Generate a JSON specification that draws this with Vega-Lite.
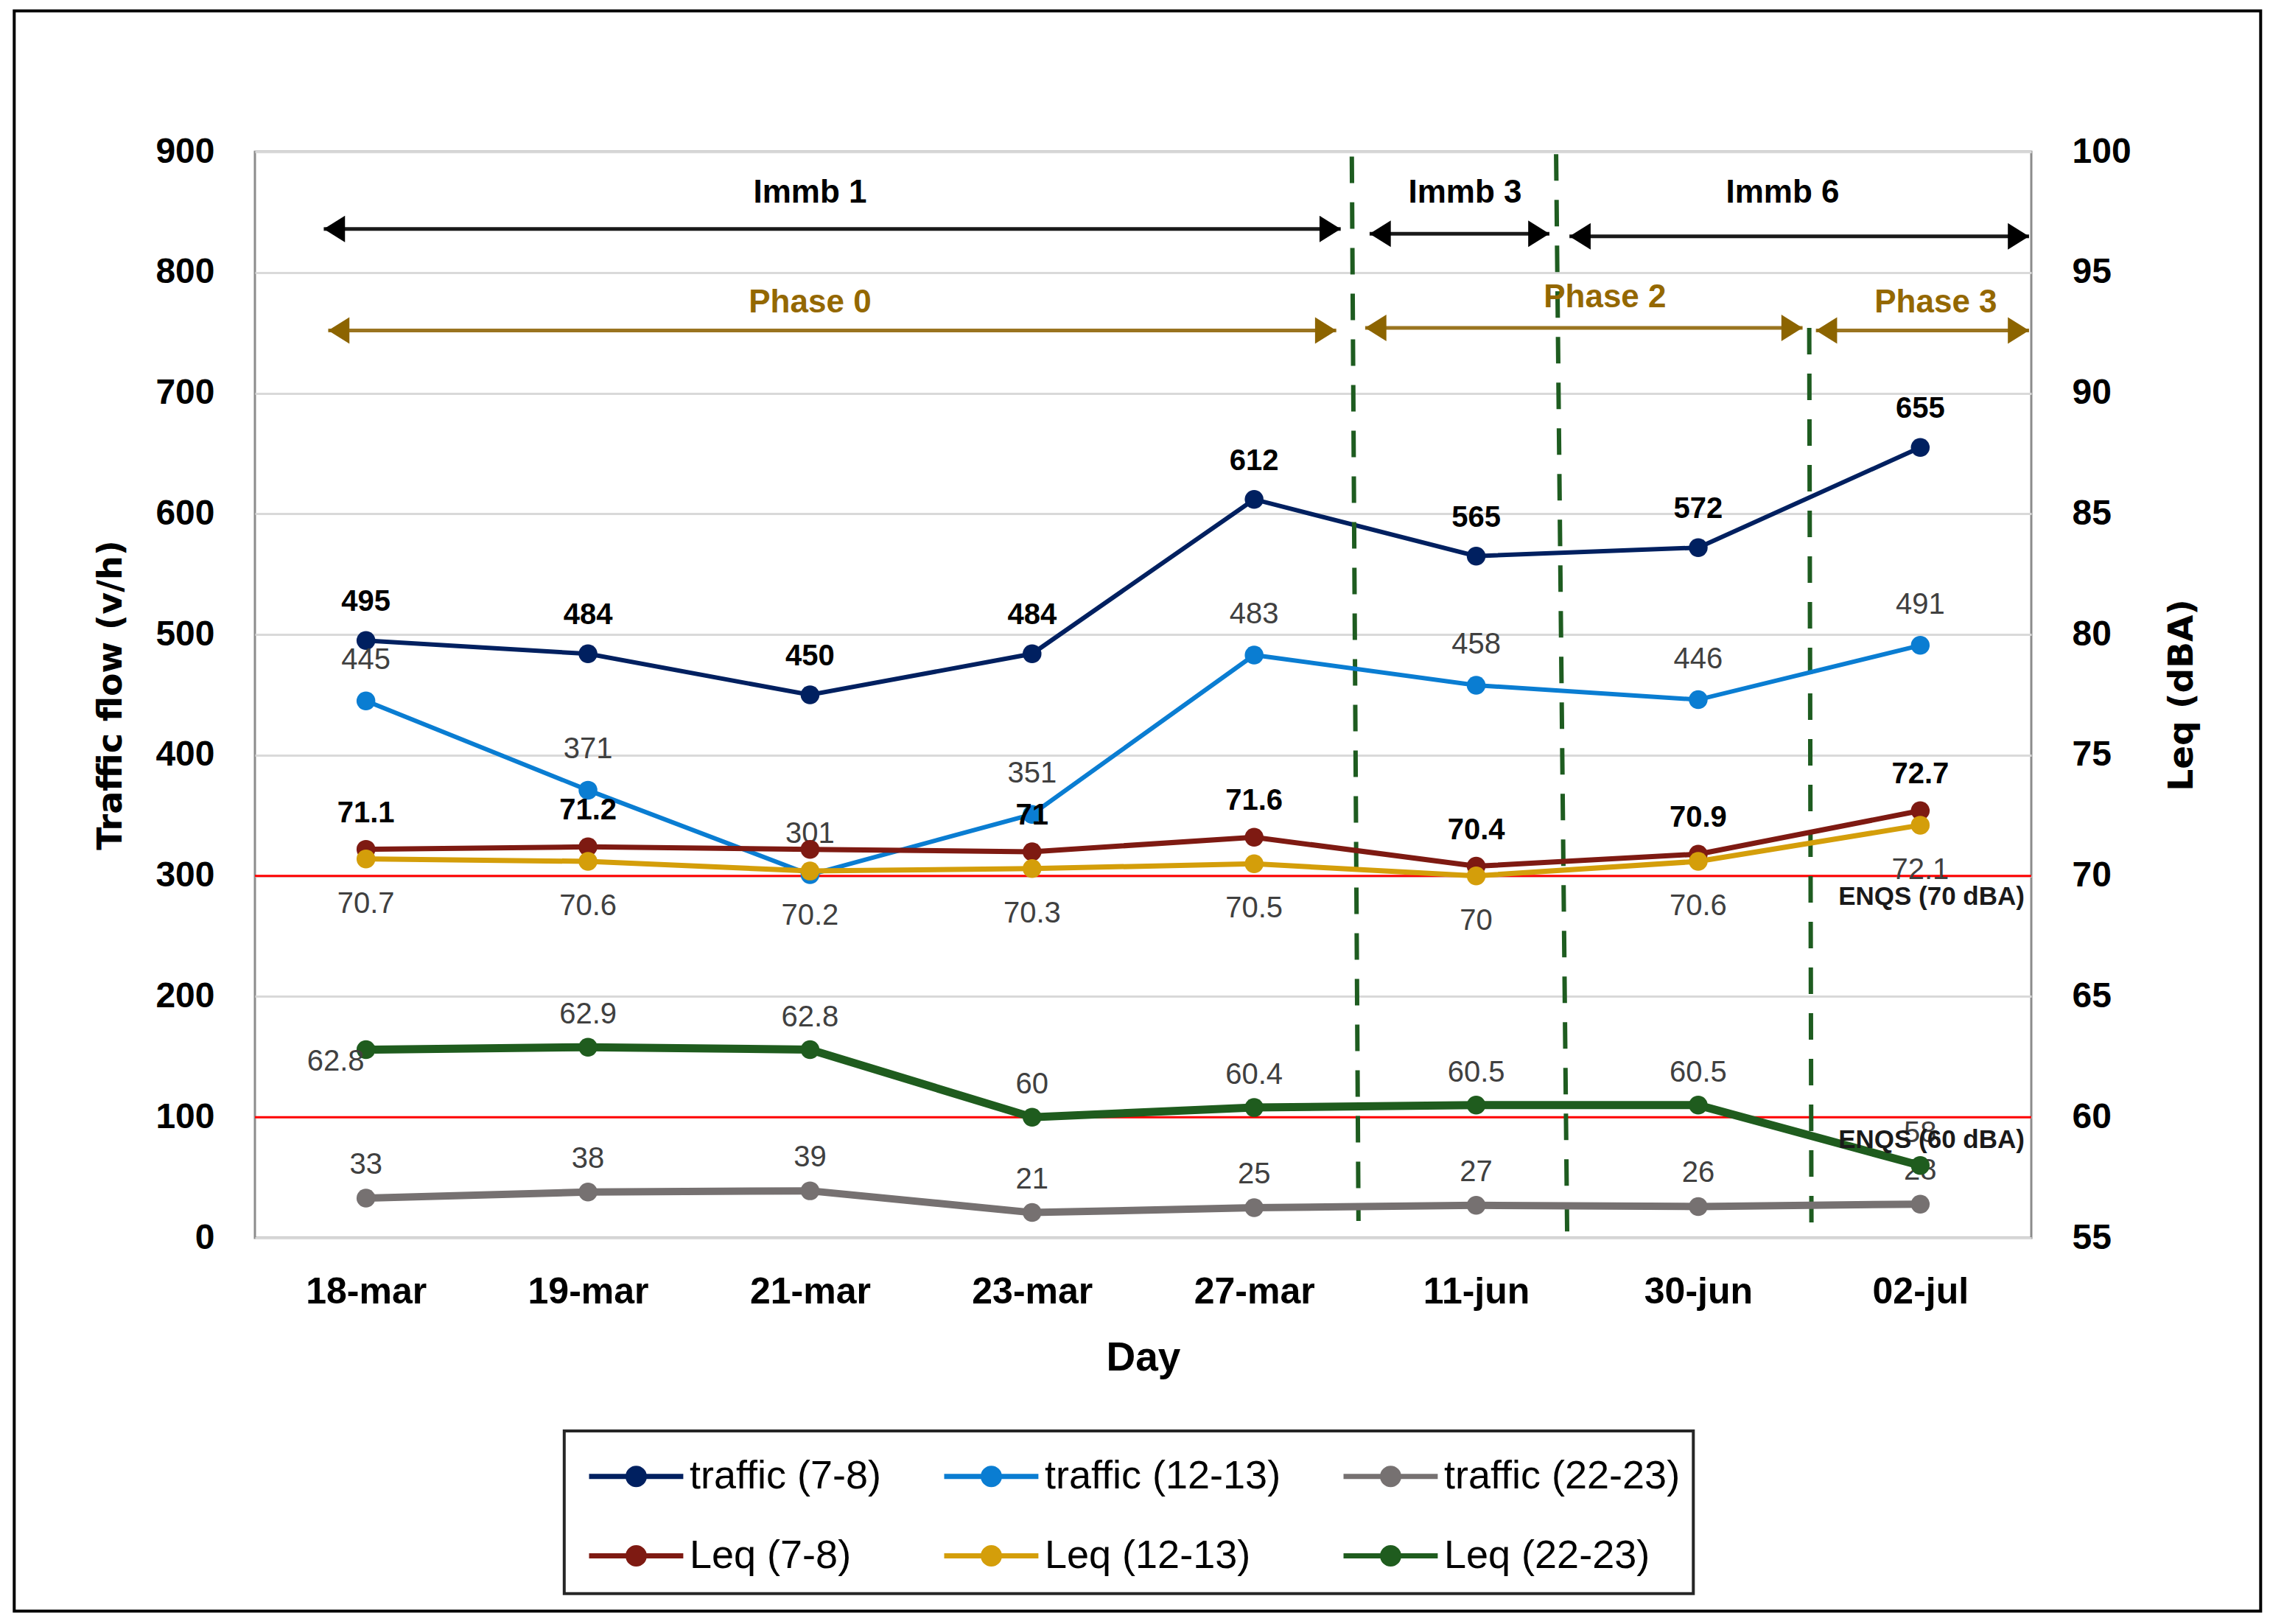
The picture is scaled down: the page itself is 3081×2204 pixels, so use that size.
{
  "$schema": "https://vega.github.io/schema/vega-lite/v6.json",
  "width": 2411,
  "height": 1474,
  "autosize": {"type": "none"},
  "padding": {"left": 346, "top": 206, "right": 324, "bottom": 524},
  "background": "#ffffff",
  "config": {
    "font": "Liberation Sans",
    "view": {"stroke": "#8C8C8C", "strokeWidth": 3}
  },
  "datasets": {
    "series": [
      {"day": "18-mar", "pos": 0, "series": "traffic (7-8)", "value": 495},
      {"day": "19-mar", "pos": 1, "series": "traffic (7-8)", "value": 484},
      {"day": "21-mar", "pos": 2, "series": "traffic (7-8)", "value": 450},
      {"day": "23-mar", "pos": 3, "series": "traffic (7-8)", "value": 484},
      {"day": "27-mar", "pos": 4, "series": "traffic (7-8)", "value": 612},
      {"day": "11-jun", "pos": 5, "series": "traffic (7-8)", "value": 565},
      {"day": "30-jun", "pos": 6, "series": "traffic (7-8)", "value": 572},
      {"day": "02-jul", "pos": 7, "series": "traffic (7-8)", "value": 655},
      {"day": "18-mar", "pos": 0, "series": "traffic (12-13)", "value": 445},
      {"day": "19-mar", "pos": 1, "series": "traffic (12-13)", "value": 371},
      {"day": "21-mar", "pos": 2, "series": "traffic (12-13)", "value": 301},
      {"day": "23-mar", "pos": 3, "series": "traffic (12-13)", "value": 351},
      {"day": "27-mar", "pos": 4, "series": "traffic (12-13)", "value": 483},
      {"day": "11-jun", "pos": 5, "series": "traffic (12-13)", "value": 458},
      {"day": "30-jun", "pos": 6, "series": "traffic (12-13)", "value": 446},
      {"day": "02-jul", "pos": 7, "series": "traffic (12-13)", "value": 491},
      {"day": "18-mar", "pos": 0, "series": "traffic (22-23)", "value": 33},
      {"day": "19-mar", "pos": 1, "series": "traffic (22-23)", "value": 38},
      {"day": "21-mar", "pos": 2, "series": "traffic (22-23)", "value": 39},
      {"day": "23-mar", "pos": 3, "series": "traffic (22-23)", "value": 21},
      {"day": "27-mar", "pos": 4, "series": "traffic (22-23)", "value": 25},
      {"day": "11-jun", "pos": 5, "series": "traffic (22-23)", "value": 27},
      {"day": "30-jun", "pos": 6, "series": "traffic (22-23)", "value": 26},
      {"day": "02-jul", "pos": 7, "series": "traffic (22-23)", "value": 28},
      {"day": "18-mar", "pos": 0, "series": "Leq (7-8)", "value": 71.1},
      {"day": "19-mar", "pos": 1, "series": "Leq (7-8)", "value": 71.2},
      {"day": "21-mar", "pos": 2, "series": "Leq (7-8)", "value": 71.1},
      {"day": "23-mar", "pos": 3, "series": "Leq (7-8)", "value": 71},
      {"day": "27-mar", "pos": 4, "series": "Leq (7-8)", "value": 71.6},
      {"day": "11-jun", "pos": 5, "series": "Leq (7-8)", "value": 70.4},
      {"day": "30-jun", "pos": 6, "series": "Leq (7-8)", "value": 70.9},
      {"day": "02-jul", "pos": 7, "series": "Leq (7-8)", "value": 72.7},
      {"day": "18-mar", "pos": 0, "series": "Leq (12-13)", "value": 70.7},
      {"day": "19-mar", "pos": 1, "series": "Leq (12-13)", "value": 70.6},
      {"day": "21-mar", "pos": 2, "series": "Leq (12-13)", "value": 70.2},
      {"day": "23-mar", "pos": 3, "series": "Leq (12-13)", "value": 70.3},
      {"day": "27-mar", "pos": 4, "series": "Leq (12-13)", "value": 70.5},
      {"day": "11-jun", "pos": 5, "series": "Leq (12-13)", "value": 70},
      {"day": "30-jun", "pos": 6, "series": "Leq (12-13)", "value": 70.6},
      {"day": "02-jul", "pos": 7, "series": "Leq (12-13)", "value": 72.1},
      {"day": "18-mar", "pos": 0, "series": "Leq (22-23)", "value": 62.8},
      {"day": "19-mar", "pos": 1, "series": "Leq (22-23)", "value": 62.9},
      {"day": "21-mar", "pos": 2, "series": "Leq (22-23)", "value": 62.8},
      {"day": "23-mar", "pos": 3, "series": "Leq (22-23)", "value": 60},
      {"day": "27-mar", "pos": 4, "series": "Leq (22-23)", "value": 60.4},
      {"day": "11-jun", "pos": 5, "series": "Leq (22-23)", "value": 60.5},
      {"day": "30-jun", "pos": 6, "series": "Leq (22-23)", "value": 60.5},
      {"day": "02-jul", "pos": 7, "series": "Leq (22-23)", "value": 58}
    ],
    "frame": [{"x1": -1.584, "x2": 8.533, "y1": 1016.7, "y2": -309.2}],
    "legendbox": [{"x1": 0.893, "x2": 5.978, "y1": -160, "y2": -294.8}],
    "refs": [{"y": 300}, {"y": 100}],
    "enqs": [
      {"label": "ENQS (70 dBA)", "x": 7.47, "y": 69.15},
      {"label": "ENQS (60 dBA)", "x": 7.47, "y": 59.05}
    ],
    "vlines": [
      {"x1": 4.44, "y1": 896, "x2": 4.47, "y2": 14},
      {"x1": 5.36, "y1": 898, "x2": 5.41, "y2": 0},
      {"x1": 6.5, "y1": 754, "x2": 6.51, "y2": 6}
    ],
    "arrows": [
      {"label": "Immb 1", "kind": "immb", "x1": -0.19, "x2": 4.39, "y": 836, "tx": 2.0, "ty": 866},
      {"label": "Immb 3", "kind": "immb", "x1": 4.52, "x2": 5.33, "y": 832, "tx": 4.95, "ty": 866},
      {"label": "Immb 6", "kind": "immb", "x1": 5.42, "x2": 7.49, "y": 830, "tx": 6.38, "ty": 866},
      {"label": "Phase 0", "kind": "phase", "x1": -0.17, "x2": 4.37, "y": 752, "tx": 2.0, "ty": 775},
      {"label": "Phase 2", "kind": "phase", "x1": 4.5, "x2": 6.47, "y": 754, "tx": 5.58, "ty": 779},
      {"label": "Phase 3", "kind": "phase", "x1": 6.53, "x2": 7.49, "y": 752, "tx": 7.07, "ty": 775}
    ]
  },
  "layer": [
    {
      "layer": [
        {
          "data": {"name": "series"},
          "transform": [{"filter": "datum.series === 'traffic (7-8)'"}],
          "mark": {"type": "line", "strokeWidth": 6},
          "encoding": {
            "x": {
              "field": "pos", "type": "quantitative", "scale": {"domain": [-0.5, 7.5]},
              "axis": {
                "orient": "bottom", "values": [0, 1, 2, 3, 4, 5, 6, 7],
                "labelExpr": "['18-mar','19-mar','21-mar','23-mar','27-mar','11-jun','30-jun','02-jul'][datum.value]",
                "grid": false, "domain": false, "ticks": false, "labelFlush": false,
                "labelFont": "Liberation Sans", "labelFontWeight": "bold", "labelFontSize": 50, "labelColor": "#000000", "labelPadding": 48,
                "title": "Day", "titleFont": "Liberation Sans", "titleFontWeight": "bold", "titleFontSize": 55, "titleColor": "#000000", "titlePadding": 38
              }
            },
            "y": {
              "field": "value", "type": "quantitative", "scale": {"domain": [0, 900]},
              "axis": {
                "orient": "left", "values": [0, 100, 200, 300, 400, 500, 600, 700, 800, 900],
                "grid": true, "gridColor": "#D9D9D9", "gridWidth": 3, "domain": false, "ticks": false,
                "labelFont": "Liberation Sans", "labelFontWeight": "bold", "labelFontSize": 48, "labelColor": "#000000", "labelPadding": 55,
                "title": "Traffic flow (v/h)", "titleFont": "DejaVu Sans", "titleFontWeight": "bold", "titleFontSize": 46, "titleColor": "#000000", "titlePadding": 36
              }
            },
            "color": {
              "field": "series", "type": "nominal",
              "scale": {
                "domain": ["traffic (7-8)", "traffic (12-13)", "traffic (22-23)", "Leq (7-8)", "Leq (12-13)", "Leq (22-23)"],
                "range": ["#002060", "#0A7DD2", "#767171", "#7E1A12", "#D49E0A", "#1F5C1E"]
              },
              "legend": {
                "orient": "none", "legendX": 416, "legendY": 1735, "columns": 3, "direction": "horizontal", "title": null,
                "symbolType": "M-0.714,0L2.94,0M0.8,0A0.314,0.314 0 1,0 1.428,0A0.314,0.314 0 1,0 0.8,0M0.914,0A0.2,0.2 0 1,0 1.314,0A0.2,0.2 0 1,0 0.914,0M1.028,0A0.086,0.086 0 1,0 1.2,0A0.086,0.086 0 1,0 1.028,0",
                "symbolSize": 4900, "symbolStrokeWidth": 7,
                "labelFont": "Liberation Sans", "labelFontSize": 54, "labelColor": "#000000", "labelOffset": 73, "labelLimit": 800,
                "columnPadding": 70, "rowPadding": 42, "padding": 24
              }
            }
          }
        },
        {
          "data": {"name": "frame"},
          "mark": {"type": "rect", "filled": false, "stroke": "#000000", "strokeWidth": 4, "clip": false},
          "encoding": {
            "x": {"field": "x1", "type": "quantitative", "scale": {"domain": [-0.5, 7.5]}},
            "x2": {"field": "x2"},
            "y": {"field": "y1", "type": "quantitative", "scale": {"domain": [0, 900]}},
            "y2": {"field": "y2"}
          }
        },
        {
          "data": {"name": "legendbox"},
          "mark": {"type": "rect", "filled": false, "stroke": "#262626", "strokeWidth": 4, "clip": false},
          "encoding": {
            "x": {"field": "x1", "type": "quantitative", "scale": {"domain": [-0.5, 7.5]}},
            "x2": {"field": "x2"},
            "y": {"field": "y1", "type": "quantitative", "scale": {"domain": [0, 900]}},
            "y2": {"field": "y2"}
          }
        },
        {
          "data": {"name": "refs"},
          "mark": {"type": "rule", "color": "#FF0000", "strokeWidth": 3},
          "encoding": {
            "y": {"field": "y", "type": "quantitative", "scale": {"domain": [0, 900]}}
          }
        },
        {
          "data": {"name": "vlines"},
          "mark": {"type": "rule", "color": "#1E5C20", "strokeWidth": 6, "strokeDash": [36, 26]},
          "encoding": {
            "x": {"field": "x1", "type": "quantitative", "scale": {"domain": [-0.5, 7.5]}},
            "x2": {"field": "x2"},
            "y": {"field": "y1", "type": "quantitative", "scale": {"domain": [0, 900]}},
            "y2": {"field": "y2"}
          }
        },
        {
          "data": {"name": "arrows"},
          "transform": [{"filter": "datum.kind === 'immb'"}],
          "mark": {"type": "rule", "color": "#1A1A1A", "strokeWidth": 5},
          "encoding": {
            "x": {"field": "x1", "type": "quantitative", "scale": {"domain": [-0.5, 7.5]}},
            "x2": {"field": "x2"},
            "y": {"field": "y", "type": "quantitative", "scale": {"domain": [0, 900]}}
          }
        },
        {
          "data": {"name": "arrows"},
          "transform": [{"filter": "datum.kind === 'phase'"}],
          "mark": {"type": "rule", "color": "#9A7420", "strokeWidth": 5},
          "encoding": {
            "x": {"field": "x1", "type": "quantitative", "scale": {"domain": [-0.5, 7.5]}},
            "x2": {"field": "x2"},
            "y": {"field": "y", "type": "quantitative", "scale": {"domain": [0, 900]}}
          }
        },
        {
          "data": {"name": "arrows"},
          "transform": [{"filter": "datum.kind === 'immb'"}],
          "mark": {"type": "point", "filled": true, "opacity": 1, "color": "#000000", "size": 1296, "shape": "M0,0L1.6,-1L1.6,1Z"},
          "encoding": {
            "x": {"field": "x1", "type": "quantitative", "scale": {"domain": [-0.5, 7.5]}},
            "y": {"field": "y", "type": "quantitative", "scale": {"domain": [0, 900]}}
          }
        },
        {
          "data": {"name": "arrows"},
          "transform": [{"filter": "datum.kind === 'immb'"}],
          "mark": {"type": "point", "filled": true, "opacity": 1, "color": "#000000", "size": 1296, "shape": "M0,0L-1.6,-1L-1.6,1Z"},
          "encoding": {
            "x": {"field": "x2", "type": "quantitative", "scale": {"domain": [-0.5, 7.5]}},
            "y": {"field": "y", "type": "quantitative", "scale": {"domain": [0, 900]}}
          }
        },
        {
          "data": {"name": "arrows"},
          "transform": [{"filter": "datum.kind === 'phase'"}],
          "mark": {"type": "point", "filled": true, "opacity": 1, "color": "#8C6400", "size": 1296, "shape": "M0,0L1.6,-1L1.6,1Z"},
          "encoding": {
            "x": {"field": "x1", "type": "quantitative", "scale": {"domain": [-0.5, 7.5]}},
            "y": {"field": "y", "type": "quantitative", "scale": {"domain": [0, 900]}}
          }
        },
        {
          "data": {"name": "arrows"},
          "transform": [{"filter": "datum.kind === 'phase'"}],
          "mark": {"type": "point", "filled": true, "opacity": 1, "color": "#8C6400", "size": 1296, "shape": "M0,0L-1.6,-1L-1.6,1Z"},
          "encoding": {
            "x": {"field": "x2", "type": "quantitative", "scale": {"domain": [-0.5, 7.5]}},
            "y": {"field": "y", "type": "quantitative", "scale": {"domain": [0, 900]}}
          }
        },
        {
          "data": {"name": "arrows"},
          "transform": [{"filter": "datum.kind === 'immb'"}],
          "mark": {"type": "text", "font": "Liberation Sans", "fontSize": 44, "fontWeight": "bold", "color": "#000000", "baseline": "middle"},
          "encoding": {
            "x": {"field": "tx", "type": "quantitative", "scale": {"domain": [-0.5, 7.5]}},
            "y": {"field": "ty", "type": "quantitative", "scale": {"domain": [0, 900]}},
            "text": {"field": "label"}
          }
        },
        {
          "data": {"name": "arrows"},
          "transform": [{"filter": "datum.kind === 'phase'"}],
          "mark": {"type": "text", "font": "Liberation Sans", "fontSize": 44, "fontWeight": "bold", "color": "#946800", "baseline": "middle"},
          "encoding": {
            "x": {"field": "tx", "type": "quantitative", "scale": {"domain": [-0.5, 7.5]}},
            "y": {"field": "ty", "type": "quantitative", "scale": {"domain": [0, 900]}},
            "text": {"field": "label"}
          }
        },
        {
          "data": {"name": "series"},
          "transform": [{"filter": "datum.series === 'traffic (12-13)'"}],
          "mark": {"type": "line", "strokeWidth": 6},
          "encoding": {
            "x": {"field": "pos", "type": "quantitative", "scale": {"domain": [-0.5, 7.5]}},
            "y": {"field": "value", "type": "quantitative", "scale": {"domain": [0, 900]}},
            "color": {"field": "series", "type": "nominal", "legend": null}
          }
        },
        {
          "data": {"name": "series"},
          "transform": [{"filter": "datum.series === 'traffic (22-23)'"}],
          "mark": {"type": "line", "strokeWidth": 10},
          "encoding": {
            "x": {"field": "pos", "type": "quantitative", "scale": {"domain": [-0.5, 7.5]}},
            "y": {"field": "value", "type": "quantitative", "scale": {"domain": [0, 900]}},
            "color": {"field": "series", "type": "nominal", "legend": null}
          }
        },
        {
          "data": {"name": "series"},
          "transform": [{"filter": "indexof(datum.series, 'traffic') === 0"}],
          "mark": {"type": "point", "filled": true, "opacity": 1, "size": 650, "shape": "circle"},
          "encoding": {
            "x": {"field": "pos", "type": "quantitative", "scale": {"domain": [-0.5, 7.5]}},
            "y": {"field": "value", "type": "quantitative", "scale": {"domain": [0, 900]}},
            "color": {"field": "series", "type": "nominal", "legend": null}
          }
        },
        {
          "data": {"name": "series"},
          "transform": [{"filter": "datum.series === 'traffic (7-8)'"}],
          "mark": {"type": "text", "dy": -52, "font": "Liberation Sans", "fontSize": 40, "fontWeight": "bold", "color": "#000000", "baseline": "middle"},
          "encoding": {
            "x": {"field": "pos", "type": "quantitative", "scale": {"domain": [-0.5, 7.5]}},
            "y": {"field": "value", "type": "quantitative", "scale": {"domain": [0, 900]}},
            "text": {"field": "value", "type": "quantitative", "format": "~g"}
          }
        },
        {
          "data": {"name": "series"},
          "transform": [{"filter": "datum.series === 'traffic (12-13)'"}],
          "mark": {"type": "text", "dy": -55, "font": "Liberation Sans", "fontSize": 40, "color": "#404040", "baseline": "middle"},
          "encoding": {
            "x": {"field": "pos", "type": "quantitative", "scale": {"domain": [-0.5, 7.5]}},
            "y": {"field": "value", "type": "quantitative", "scale": {"domain": [0, 900]}},
            "text": {"field": "value", "type": "quantitative", "format": "~g"}
          }
        },
        {
          "data": {"name": "series"},
          "transform": [{"filter": "datum.series === 'traffic (22-23)'"}],
          "mark": {"type": "text", "dy": -45, "font": "Liberation Sans", "fontSize": 40, "color": "#404040", "baseline": "middle"},
          "encoding": {
            "x": {"field": "pos", "type": "quantitative", "scale": {"domain": [-0.5, 7.5]}},
            "y": {"field": "value", "type": "quantitative", "scale": {"domain": [0, 900]}},
            "text": {"field": "value", "type": "quantitative", "format": "~g"}
          }
        }
      ]
    },
    {
      "layer": [
        {
          "data": {"name": "series"},
          "transform": [{"filter": "datum.series === 'Leq (7-8)'"}],
          "mark": {"type": "line", "strokeWidth": 7},
          "encoding": {
            "x": {"field": "pos", "type": "quantitative", "scale": {"domain": [-0.5, 7.5]}},
            "y": {
              "field": "value", "type": "quantitative", "scale": {"domain": [55, 100]},
              "axis": {
                "orient": "right", "values": [55, 60, 65, 70, 75, 80, 85, 90, 95, 100],
                "grid": false, "domain": false, "ticks": false,
                "labelFont": "Liberation Sans", "labelFontWeight": "bold", "labelFontSize": 48, "labelColor": "#000000", "labelPadding": 55,
                "title": "Leq (dBA)", "titleFont": "DejaVu Sans", "titleFontWeight": "bold", "titleFontSize": 47, "titleColor": "#000000",
                "titleAngle": 270, "titleBaseline": "top", "titlePadding": 46
              }
            },
            "color": {"field": "series", "type": "nominal", "legend": null}
          }
        },
        {
          "data": {"name": "series"},
          "transform": [{"filter": "datum.series === 'Leq (12-13)'"}],
          "mark": {"type": "line", "strokeWidth": 7},
          "encoding": {
            "x": {"field": "pos", "type": "quantitative", "scale": {"domain": [-0.5, 7.5]}},
            "y": {"field": "value", "type": "quantitative", "scale": {"domain": [55, 100]}},
            "color": {"field": "series", "type": "nominal", "legend": null}
          }
        },
        {
          "data": {"name": "series"},
          "transform": [{"filter": "datum.series === 'Leq (22-23)'"}],
          "mark": {"type": "line", "strokeWidth": 11},
          "encoding": {
            "x": {"field": "pos", "type": "quantitative", "scale": {"domain": [-0.5, 7.5]}},
            "y": {"field": "value", "type": "quantitative", "scale": {"domain": [55, 100]}},
            "color": {"field": "series", "type": "nominal", "legend": null}
          }
        },
        {
          "data": {"name": "series"},
          "transform": [{"filter": "indexof(datum.series, 'Leq') === 0"}],
          "mark": {"type": "point", "filled": true, "opacity": 1, "size": 650, "shape": "circle"},
          "encoding": {
            "x": {"field": "pos", "type": "quantitative", "scale": {"domain": [-0.5, 7.5]}},
            "y": {"field": "value", "type": "quantitative", "scale": {"domain": [55, 100]}},
            "color": {"field": "series", "type": "nominal", "legend": null}
          }
        },
        {
          "data": {"name": "series"},
          "transform": [{"filter": "datum.series === 'Leq (7-8)' && datum.day !== '21-mar'"}],
          "mark": {"type": "text", "dy": -49, "font": "Liberation Sans", "fontSize": 40, "fontWeight": "bold", "color": "#000000", "baseline": "middle"},
          "encoding": {
            "x": {"field": "pos", "type": "quantitative", "scale": {"domain": [-0.5, 7.5]}},
            "y": {"field": "value", "type": "quantitative", "scale": {"domain": [55, 100]}},
            "text": {"field": "value", "type": "quantitative", "format": "~g"}
          }
        },
        {
          "data": {"name": "series"},
          "transform": [{"filter": "datum.series === 'Leq (12-13)'"}],
          "mark": {"type": "text", "dy": 61, "font": "Liberation Sans", "fontSize": 40, "color": "#404040", "baseline": "middle"},
          "encoding": {
            "x": {"field": "pos", "type": "quantitative", "scale": {"domain": [-0.5, 7.5]}},
            "y": {"field": "value", "type": "quantitative", "scale": {"domain": [55, 100]}},
            "text": {"field": "value", "type": "quantitative", "format": "~g"}
          }
        },
        {
          "data": {"name": "series"},
          "transform": [{"filter": "datum.series === 'Leq (22-23)' && datum.day !== '18-mar'"}],
          "mark": {"type": "text", "dy": -44, "font": "Liberation Sans", "fontSize": 40, "color": "#404040", "baseline": "middle"},
          "encoding": {
            "x": {"field": "pos", "type": "quantitative", "scale": {"domain": [-0.5, 7.5]}},
            "y": {"field": "value", "type": "quantitative", "scale": {"domain": [55, 100]}},
            "text": {"field": "value", "type": "quantitative", "format": "~g"}
          }
        },
        {
          "data": {"name": "series"},
          "transform": [{"filter": "datum.series === 'Leq (22-23)' && datum.day === '18-mar'"}],
          "mark": {"type": "text", "dx": -41, "dy": 16, "font": "Liberation Sans", "fontSize": 40, "color": "#404040", "baseline": "middle"},
          "encoding": {
            "x": {"field": "pos", "type": "quantitative", "scale": {"domain": [-0.5, 7.5]}},
            "y": {"field": "value", "type": "quantitative", "scale": {"domain": [55, 100]}},
            "text": {"field": "value", "type": "quantitative", "format": "~g"}
          }
        },
        {
          "data": {"name": "enqs"},
          "mark": {"type": "text", "align": "right", "baseline": "middle", "font": "Liberation Sans", "fontSize": 35, "fontWeight": "bold", "color": "#1A1A1A"},
          "encoding": {
            "x": {"field": "x", "type": "quantitative", "scale": {"domain": [-0.5, 7.5]}},
            "y": {"field": "y", "type": "quantitative", "scale": {"domain": [55, 100]}},
            "text": {"field": "label"}
          }
        }
      ]
    }
  ],
  "resolve": {"scale": {"y": "independent"}}
}
